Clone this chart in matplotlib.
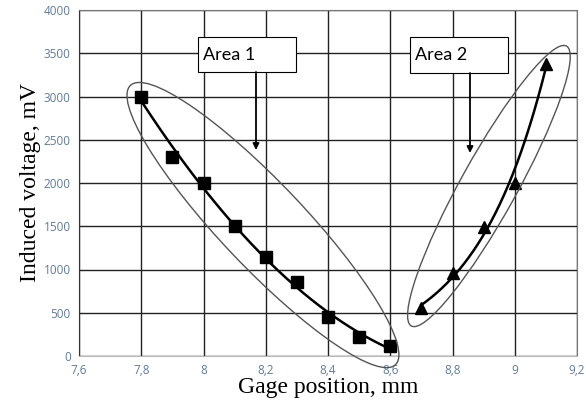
import matplotlib
matplotlib.use("Agg")
import numpy as np
import matplotlib.pyplot as plt
from matplotlib.patches import Ellipse
from matplotlib.transforms import ScaledTranslation

# ---- data ----
area1_x = [7.8, 7.9, 8.0, 8.1, 8.2, 8.3, 8.4, 8.5, 8.6]
area1_y = [3000, 2300, 2000, 1500, 1150, 850, 450, 220, 120]
area2_x = [8.7, 8.8, 8.9, 9.0, 9.1]
area2_y = [560, 960, 1490, 2000, 3380]
x_ticks = [7.6, 7.8, 8.0, 8.2, 8.4, 8.6, 8.8, 9.0, 9.2]
x_tick_labels = ["7,6", "7,8", "8", "8,2", "8,4", "8,6", "8,8", "9", "9,2"]
y_ticks = [0, 500, 1000, 1500, 2000, 2500, 3000, 3500, 4000]
x_label = "Gage position, mm"
y_label = "Induced voltage, mV"
box_labels = ["Area 1", "Area 2"]

fig = plt.figure(figsize=(5.86, 4.13), dpi=100)
ax = fig.add_axes([79/586, 57/413, (577-79)/586, (356-10)/413])
ax.set_xlim(7.6, 9.2)
ax.set_ylim(0, 4000)

# trendlines: polynomial (area 1) and exponential (area 2)
c1 = np.polyfit(area1_x, area1_y, 2)
xx1 = np.linspace(min(area1_x), max(area1_x), 200)
ax.plot(xx1, np.polyval(c1, xx1), color="black", lw=1.8, zorder=3)

c2 = np.polyfit(area2_x, np.log(area2_y), 1)
xx2 = np.linspace(min(area2_x), max(area2_x), 200)
ax.plot(xx2, np.exp(np.polyval(c2, xx2)), color="black", lw=1.8, zorder=3)

ax.plot(area1_x, area1_y, ls="none", marker="s", ms=8, color="black", zorder=4)
ax.plot(area2_x, area2_y, ls="none", marker="^", ms=9, color="black", zorder=4)

# ellipses (sizes in inches, centered in data coords)
for (cx, cy), w, h, ang in [((8.191, 1514), 3.85, 0.84, -46.5),
                            ((8.917, 1965), 3.20, 0.56, 61.0)]:
    tr = fig.dpi_scale_trans + ScaledTranslation(cx, cy, ax.transData)
    ax.add_patch(Ellipse((0, 0), w, h, angle=ang, transform=tr,
                         facecolor="none", edgecolor="#555555", lw=1.0,
                         zorder=5, clip_on=False))

ax.set_xticks(x_ticks)
ax.set_xticklabels(x_tick_labels)
ax.set_yticks(y_ticks)
ax.tick_params(length=0, pad=6, labelsize=8.5, labelcolor="#5f7b9c")
for lab in ax.get_xticklabels() + ax.get_yticklabels():
    lab.set_fontfamily("Open Sans")
ax.grid(True, color="#222222", lw=1.0)
ax.set_axisbelow(True)
for s in ["top", "right"]:
    ax.spines[s].set_color("#777777")
ax.spines["bottom"].set_color("#bbbbbb")
ax.spines["left"].set_color("#333333")

ax.set_xlabel(x_label, fontfamily="Liberation Serif", fontsize=17, labelpad=0)
ax.set_ylabel(y_label, fontfamily="Liberation Serif", fontsize=17, labelpad=2)

# text boxes with arrows (positions in axes fraction)
def px_to_axes(px, py):
    return ((px - 79) / (577 - 79), (356 - py) / (356 - 10))

for label, (bx0, by0, bx1, by1), (ax0, ay0, ay1) in [
        (box_labels[0], (198, 37, 296, 72), (256, 72, 150)),
        (box_labels[1], (410, 37, 508, 73), (470, 73, 153))]:
    p0 = px_to_axes(bx0, by1)
    p1 = px_to_axes(bx1, by0)
    rect = plt.Rectangle(p0, p1[0]-p0[0], p1[1]-p0[1], transform=ax.transAxes,
                         facecolor="white", edgecolor="black", lw=0.8, zorder=6)
    ax.add_patch(rect)
    tp = px_to_axes(bx0 + 5, (by0 + by1) / 2)
    ax.text(tp[0], tp[1], label, transform=ax.transAxes, fontfamily="Lato",
            fontsize=13, va="center", ha="left", zorder=7)
    s = px_to_axes(ax0, ay0)
    e = px_to_axes(ax0, ay1)
    ax.annotate("", xy=e, xytext=s, xycoords="axes fraction",
                textcoords="axes fraction",
                arrowprops=dict(arrowstyle="-|>", color="black", lw=1.3,
                                mutation_scale=9, shrinkA=0, shrinkB=0),
                zorder=7)

fig.savefig("out.png", dpi=100)
